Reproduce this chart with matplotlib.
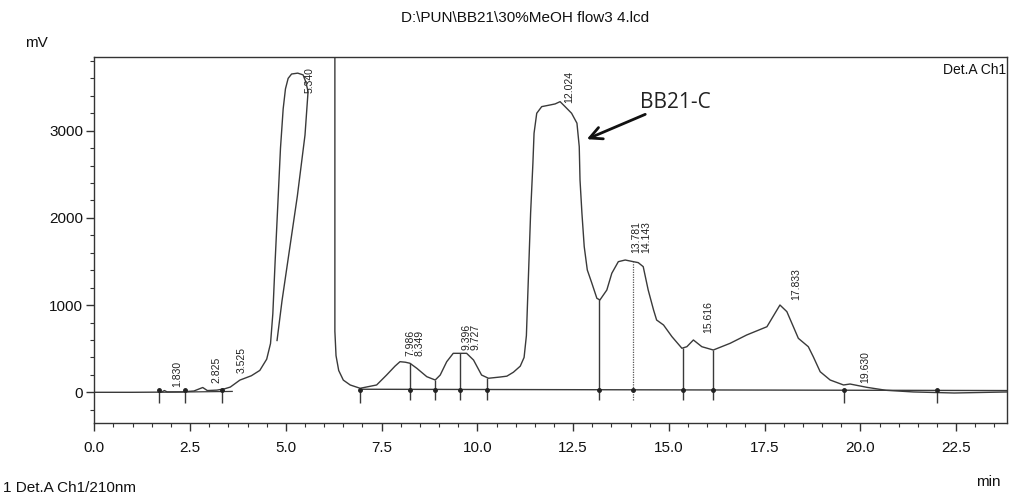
import numpy as np
import matplotlib
matplotlib.use("Agg")
import matplotlib.pyplot as plt
from matplotlib.ticker import MultipleLocator, FormatStrFormatter

plt.rcParams['font.family'] = ['Liberation Sans', 'DejaVu Sans']

# front part of the trace (up to the saturated main peak, drawn as it appears)
front_rt = [0.0, 1.0, 1.75, 1.83, 1.9, 2.3, 2.6, 2.83, 2.95, 3.2, 3.4, 3.55, 3.8,
            4.1, 4.32, 4.5, 4.60, 4.66, 4.72, 4.79, 4.86, 4.93, 4.99, 5.06, 5.15,
            5.31, 5.45, 5.52, 5.58,
            5.50, 5.30, 5.10, 4.90, 4.77]
front_mv = [0, 0, 2, 20, 5, 5, 15, 55, 20, 25, 40, 60, 140,
            190, 251, 380, 560, 900, 1500, 2150, 2800, 3250, 3480, 3600, 3650,
            3660, 3640, 3560, 3450,
            2950, 2250, 1650, 1050, 594]

# rest of the trace, from the off-scale return at 6.3 min
tail_rt = [6.28, 6.28, 6.31, 6.38, 6.50, 6.68, 6.94, 7.37, 7.63, 7.85, 7.98, 8.12,
           8.24, 8.42, 8.68, 8.90, 9.03, 9.20, 9.37, 9.55, 9.72, 9.90, 10.11,
           10.29, 10.59, 10.77, 10.94, 11.12, 11.22, 11.28, 11.33, 11.39, 11.45,
           11.48, 11.55, 11.68, 11.90, 12.03, 12.16, 12.29, 12.46, 12.60, 12.66,
           12.68, 12.73, 12.79, 12.87, 12.99, 13.12, 13.20, 13.38, 13.51, 13.68,
           13.86, 14.05, 14.20, 14.33, 14.46, 14.60, 14.68, 14.86, 15.08, 15.34,
           15.47, 15.64, 15.86, 16.16, 16.60, 17.03, 17.56, 17.77, 17.90, 18.08,
           18.25, 18.38, 18.64, 18.77, 18.95, 19.21, 19.56, 19.73, 20.17, 20.67,
           21.38, 22.45, 23.84]
tail_mv = [4200, 700, 420, 250, 140, 84, 46, 84, 198, 300, 351, 345,
           333, 275, 179, 141, 198, 351, 447, 447, 447, 370, 198,
           161, 175, 185, 230, 300, 400, 650, 1288, 2053, 2627,
           2971, 3200, 3276, 3295, 3307, 3333, 3276, 3200, 3086, 2817,
           2435, 2053, 1670, 1403, 1250, 1078, 1059, 1173, 1365, 1498,
           1517, 1500, 1487, 1441, 1173, 944, 829, 772, 638, 505,
           523, 600, 523, 485, 562, 657, 752, 906, 1001, 925,
           752, 619, 523, 408, 236, 141, 84, 95, 57, 23,
           4, -8, 4]

# peak retention time labels
peak_labels = ['1.830', '2.825', '3.525', '5.340', '7.986', '8.349', '9.396', '9.727',
               '12.024', '13.781', '14.143', '15.616', '17.833', '19.630']
label_x = [2.02, 3.07, 3.72, 5.50, 8.12, 8.37, 9.58, 9.83,
           12.28, 14.02, 14.27, 15.89, 18.19, 19.99]
label_y = [64, 107, 220, 3430, 420, 420, 490, 490,
           3320, 1600, 1600, 682, 1060, 107]

# integration drop lines / marks
drop_rt = [8.24, 8.90, 9.55, 10.25, 13.17, 15.36, 16.16]
dotted_drop_rt = [14.06]
base_marks = [1.69, 2.37, 3.34, 6.94, 19.57, 22.00]

fig = plt.figure(figsize=(10.1, 4.97), dpi=100)
ax = fig.add_axes([0.0934, 0.1489, 0.9041, 0.7364])

ax.plot(front_rt, front_mv, color='#3a3a3a', lw=1.0)
ax.plot(tail_rt, tail_mv, color='#3a3a3a', lw=1.0)

# baselines
ax.plot([1.69, 3.6], [0, 10], color='#3a3a3a', lw=0.9)
ax.plot([6.94, 23.84], [35, 20], color='#3a3a3a', lw=1.0)

tops = np.interp(drop_rt, tail_rt[1:], tail_mv[1:])
ax.vlines(drop_rt, -90, tops, color='#3a3a3a', lw=1.0)
tops_d = np.interp(dotted_drop_rt, tail_rt[1:], tail_mv[1:])
ax.vlines(dotted_drop_rt, -90, tops_d, color='#555555', lw=0.9, linestyles=(0, (1, 1)))
ax.vlines(base_marks, -120, 40, color='#3a3a3a', lw=1.0)
ax.plot(drop_rt + dotted_drop_rt + base_marks,
        [30] * (len(drop_rt) + len(dotted_drop_rt) + len(base_marks)),
        'o', color='#222222', ms=2.5)

for txt, lx, ly in zip(peak_labels, label_x, label_y):
    ax.text(lx, ly, txt, rotation=90, ha='left', va='bottom', fontsize=7.5,
            color='#222222')

ax.annotate('', xy=(12.79, 2890), xytext=(14.45, 3200),
            arrowprops=dict(arrowstyle='->', lw=2.0, color='#111111', mutation_scale=22))
ax.text(14.25, 3318, 'BB21-C', fontsize=15, va='center', ha='left',
        family=['Open Sans', 'DejaVu Sans'], color='#222222')

ax.text(0.999, 0.965, 'Det.A Ch1', transform=ax.transAxes, ha='right', va='center',
        fontsize=10, color='#111111')

ax.set_xlim(0, 23.84)
ax.set_ylim(-352, 3845)
ax.xaxis.set_major_locator(MultipleLocator(2.5))
ax.xaxis.set_minor_locator(MultipleLocator(0.5))
ax.yaxis.set_major_locator(MultipleLocator(1000))
ax.yaxis.set_minor_locator(MultipleLocator(200))
ax.xaxis.set_major_formatter(FormatStrFormatter('%.1f'))
ax.tick_params(which='major', direction='out', length=6, width=1, labelsize=11,
               color='#333333', labelcolor='#111111')
ax.tick_params(axis='x', which='major', pad=7)
ax.tick_params(axis='y', which='major', pad=2)
ax.tick_params(which='minor', direction='out', length=3, width=0.8, color='#333333')
for s in ax.spines.values():
    s.set_linewidth(1.0)
    s.set_color('#333333')
ax.set_yticks([0, 1000, 2000, 3000])

fig.text(0.52, 0.963, 'D:\\PUN\\BB21\\30%MeOH flow3 4.lcd', ha='center', va='center',
         fontsize=11, color='#111111')
fig.text(0.036, 0.913, 'mV', ha='center', va='center', fontsize=11, color='#111111')
fig.text(0.979, 0.03, 'min', ha='center', va='center', fontsize=11, color='#111111')
fig.text(0.003, 0.018, '1 Det.A Ch1/210nm', ha='left', va='center', fontsize=11, color='#111111')

fig.savefig('out.png', dpi=100)
